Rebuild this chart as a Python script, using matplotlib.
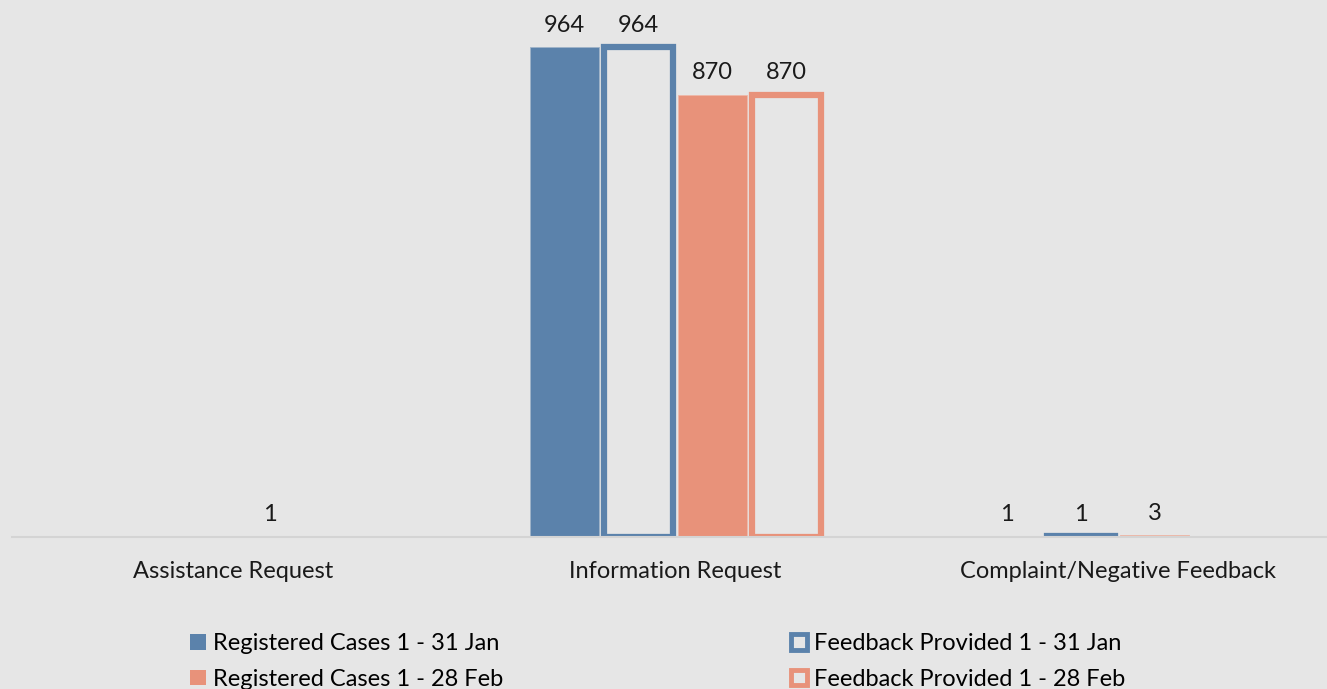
import matplotlib.pyplot as plt
import numpy as np

categories = ['Assistance Request', 'Information Request', 'Complaint/Negative Feedback']
reg_jan = [0, 964, 1]
fb_jan = [0, 964, 1]
reg_feb = [1, 870, 3]
fb_feb = [0, 870, 0]

bg = '#E6E6E6'
blue = '#5B82AB'
orange = '#E8927A'

plt.rcParams['font.family'] = ['Lato', 'DejaVu Sans']

fig = plt.figure(figsize=(13.27, 6.89), dpi=100, facecolor=bg)
ax = fig.add_axes([0.009, 0.2206, 1.0, 0.7794], facecolor=bg)

x = np.arange(len(categories))
slot = 0.167
w = 0.155


def edge_widths(vals, lw):
    # no outline for empty bars
    return [lw if v > 0 else 0 for v in vals]


b1 = ax.bar(x - 1.5 * slot, reg_jan, w, color=blue, edgecolor='#9fb3c8',
            linewidth=edge_widths(reg_jan, 0.6), label='Registered Cases 1 - 31 Jan')
b2 = ax.bar(x - 0.5 * slot, fb_jan, w, facecolor=bg, edgecolor=blue,
            linewidth=edge_widths(fb_jan, 4.5), label='Feedback Provided 1 - 31 Jan')
b3 = ax.bar(x + 0.5 * slot, reg_feb, w, color=orange, edgecolor='#efb8a8',
            linewidth=edge_widths(reg_feb, 0.6), label='Registered Cases 1 - 28 Feb')
b4 = ax.bar(x + 1.5 * slot, fb_feb, w, facecolor=bg, edgecolor=orange,
            linewidth=edge_widths(fb_feb, 4.5), label='Feedback Provided 1 - 28 Feb')

for bars, vals in [(b1, reg_jan), (b2, fb_jan), (b3, reg_feb), (b4, fb_feb)]:
    ax.bar_label(bars, labels=['' if v == 0 else str(v) for v in vals],
                 padding=8, fontsize=17, color='#1a1a1a')

ax.set_xlim(-0.5, 2.5)
ax.set_ylim(0, 1056)
ax.set_xticks(x)
ax.set_xticklabels(categories, fontsize=17, color='#1a1a1a')
ax.tick_params(axis='x', length=0, pad=17)
ax.set_yticks([])
for s in ['top', 'right', 'left']:
    ax.spines[s].set_visible(False)
ax.spines['bottom'].set_color('#D4D4D4')
ax.spines['bottom'].set_linewidth(1.5)
ax.spines['bottom'].set_zorder(5)

leg = fig.legend(handles=[b1, b3, b2, b4], ncol=2, loc='center left',
                 bbox_to_anchor=(0.1275, 0.040), frameon=False, fontsize=17,
                 handlelength=0.65, handleheight=0.65, handletextpad=0.3,
                 columnspacing=12.2, labelspacing=0.63)
# filled, filled, outlined, outlined
for h, lw in zip(leg.legend_handles, [0, 0, 3.5, 3.5]):
    h.set_linewidth(lw)

plt.savefig('out.png', dpi=100, facecolor=bg)
